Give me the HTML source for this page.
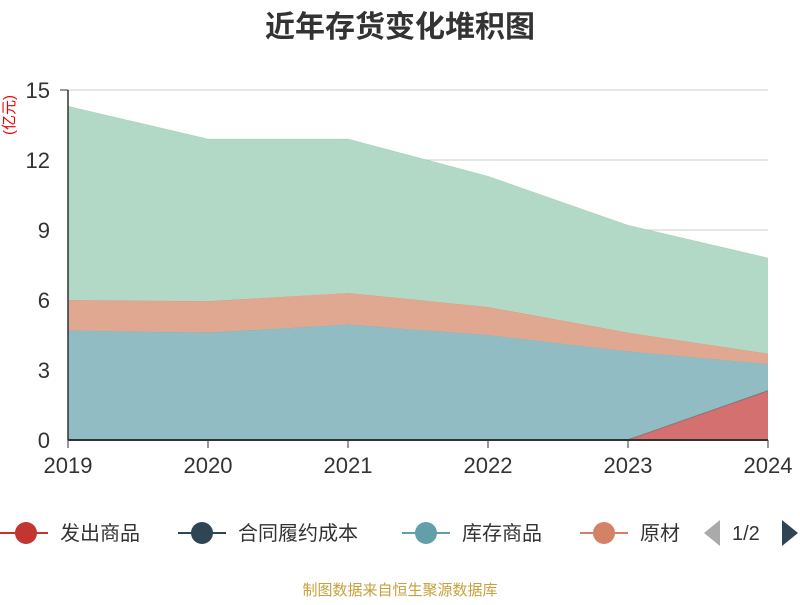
<!DOCTYPE html>
<html><head><meta charset="utf-8"><style>
body{margin:0;background:#fff;font-family:"Liberation Sans","Noto Sans CJK SC",sans-serif}
</style></head><body>
<svg id="c" width="800" height="600" xmlns="http://www.w3.org/2000/svg" style="font-family:'Liberation Sans','Noto Sans CJK SC',sans-serif">
<text x="400" y="37" text-anchor="middle" font-size="30" font-weight="bold" fill="#333">近年存货变化堆积图</text>
<text transform="translate(14,115) rotate(-90)" text-anchor="middle" font-size="15" fill="#e00">(亿元)</text>
<g id="grid"></g><g id="areas"></g><g id="axes"></g>
<g font-size="20" fill="#333">
<g><line x1="0" y1="533" x2="48" y2="533" stroke="#c23531" stroke-width="2"/><circle cx="26" cy="533" r="11" fill="#c23531"/><text x="60" y="540">发出商品</text></g>
<g><line x1="178" y1="533" x2="226" y2="533" stroke="#2f4554" stroke-width="2"/><circle cx="202" cy="533" r="11" fill="#2f4554"/><text x="238" y="540">合同履约成本</text></g>
<g><line x1="402" y1="533" x2="450" y2="533" stroke="#61a0a8" stroke-width="2"/><circle cx="426" cy="533" r="11" fill="#61a0a8"/><text x="462" y="540">库存商品</text></g>
<g><line x1="580" y1="533" x2="628" y2="533" stroke="#d48265" stroke-width="2"/><circle cx="604" cy="533" r="11" fill="#d48265"/><text x="640" y="540">原材</text></g>
<polygon points="704,533 720,520 720,546" fill="#aaa"/>
<text x="732" y="540">1/2</text>
<polygon points="798,533 782,520 782,546" fill="#2f4554"/>
</g>
<text x="400" y="595" text-anchor="middle" font-size="15" fill="#c8a03c">制图数据来自恒生聚源数据库</text>
</svg>
<script>
const years=["2019","2020","2021","2022","2023","2024"];
const fachu=[0,0,0,0,0,2.1];
const hetong=[0.03,0.03,0.03,0.03,0.03,0.03];
const kucun=[4.67,4.57,4.92,4.47,3.77,1.13];
const yuancailiao=[1.3,1.35,1.35,1.2,0.8,0.44];
const other=[8.3,6.95,6.6,5.6,4.6,4.1];
const yTicks=[0,3,6,9,12,15];
const NS="http://www.w3.org/2000/svg";
const x=i=>68+i*140, y=v=>440-v*350/15;
function mk(t,a,p){const e=document.createElementNS(NS,t);for(const k in a)e.setAttribute(k,a[k]);p.appendChild(e);return e;}
const grid=document.getElementById('grid'),areas=document.getElementById('areas'),axes=document.getElementById('axes');
yTicks.forEach(t=>{
 const l=mk('line',{x1:68,x2:768,y1:y(t),y2:y(t),stroke:'#ccc'},grid);
 
 
 const tx=mk('text',{x:50,y:y(t)+8,'text-anchor':'end','font-size':22,fill:'#333'},axes);
 tx.textContent=t;
 
 
});
const series=[[fachu,'#d47070','#c23531','area-fachu'],[hetong,'#7a8790','#2f4554','area-hetong'],[kucun,'#91bcc3','#61a0a8','area-kucun'],[yuancailiao,'#e1a891','#d48265','area-yuancailiao'],[other,'#b2d8c6','#91c7ae','area-other']];
let base=years.map(()=>0);
series.forEach(([d,fill,stroke,name])=>{
 const top=base.map((b,i)=>b+d[i]);
 const pts=top.map((v,i)=>x(i)+','+y(v)).concat(base.map((v,i)=>x(i)+','+y(v)).reverse());
 const p=mk('polygon',{points:pts.join(' '),fill:fill},areas);
 
 
 const pl=mk('polyline',{points:top.map((v,i)=>x(i)+','+y(v)).join(' '),fill:'none',stroke:stroke,'stroke-width':0.6,'stroke-opacity':0.6},areas);
 
 
 base=top;
});
mk('line',{x1:68,x2:68,y1:90,y2:440,stroke:'#333','stroke-width':1.5},axes);
mk('line',{x1:60,x2:68,y1:90,y2:90,stroke:'#333'},axes);
mk('line',{x1:68,x2:768,y1:440,y2:440,stroke:'#333','stroke-width':2},axes);
years.forEach((yr,i)=>{
 mk('line',{x1:x(i),x2:x(i),y1:440,y2:448,stroke:'#333'},axes);
 const t=mk('text',{x:x(i),y:473,'text-anchor':'middle','font-size':22,fill:'#333'},axes);
 t.textContent=yr;
 
 
});
</script>
</body></html>
